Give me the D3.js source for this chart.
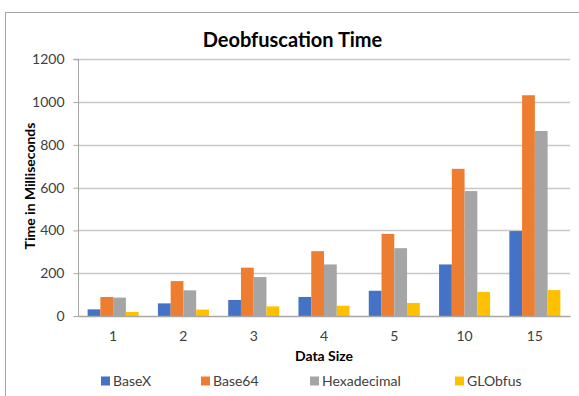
<!DOCTYPE html>
<html><head><meta charset="utf-8">
<script src="https://cdn.jsdelivr.net/npm/d3@7"></script>
<style>html,body{margin:0;padding:0;background:#fff;} svg{display:block;font-family:Lato,"Open Sans",sans-serif;}</style>
</head><body>
<svg id="c" width="579" height="396"></svg>
<script>
const categories = ["1","2","3","4","5","10","15"];
const seriesNames = ["BaseX","Base64","Hexadecimal","GLObfus"];
const baseX = [31, 59, 75, 89, 118, 241, 397];
const base64 = [89, 163, 226, 303, 384, 688, 1032];
const hexadecimal = [86, 120, 182, 241, 317, 584, 865];
const globfus = [19, 30, 45, 48, 61, 112, 121];
const yTicks = [0, 200, 400, 600, 800, 1000, 1200];
const colors = ["#4472C4","#ED7D31","#A5A5A5","#FFC000"];

const seriesValues = [baseX, base64, hexadecimal, globfus];
const svg = d3.select("#c");
const m = {left:78, right:570, top:59.3, bottom:316};

svg.append("rect").attr("x",5.5).attr("y",12.5).attr("width",600).attr("height",420)
  .attr("fill","#fff").attr("stroke","#a6a6a6").attr("stroke-width",1);

const x = d3.scaleBand().domain(categories).range([m.left, m.right]).paddingInner(0).paddingOuter(0);
const xs = d3.scaleBand().domain(seriesNames).range([0, x.bandwidth()]).paddingInner(0).paddingOuter(0.755);
const y = d3.scaleLinear().domain([0,1200]).range([m.bottom, m.top]);

// gridlines
svg.append("g").selectAll("line").data(yTicks.filter(d=>d>0)).join("line")
  .attr("x1", m.left).attr("x2", m.right)
  .attr("y1", d=>Math.round(y(d))+0.5).attr("y2", d=>Math.round(y(d))+0.5)
  .attr("stroke","#c8c8c8").attr("stroke-width",1.3);

// y axis
const yAxis = d3.axisLeft(y).tickValues(yTicks).tickSize(5).tickPadding(9).tickFormat(d3.format("d"));
const ya = svg.append("g").attr("transform",`translate(${m.left+0.5},0)`).call(yAxis);
ya.select(".domain").attr("stroke","#a6a6a6").attr("d",`M-5,${y(1200)}H0V${y(0)}`);
ya.selectAll(".tick line").attr("stroke","#a6a6a6");
ya.selectAll(".tick text").attr("fill","#404040").style("font-size","14px").style("font-family","Lato,sans-serif");

// bars
const groups = svg.append("g").selectAll("g").data(categories).join("g")
  .attr("transform", c=>`translate(${x(c)},0)`);
groups.selectAll("rect").data((c,i)=>seriesNames.map((s,j)=>({s, v:seriesValues[j][i], j})))
  .join("rect")
  .attr("x", d=>xs(d.s)).attr("width", xs.bandwidth())
  .attr("y", d=>y(d.v)).attr("height", d=>y(0)-y(d.v))
  .attr("fill", d=>colors[d.j]);

// x axis
const xAxis = d3.axisBottom(x).tickSize(0).tickPadding(15);
const xa = svg.append("g").attr("transform",`translate(0,${m.bottom})`).call(xAxis);
xa.select(".domain").attr("stroke","#a6a6a6").attr("stroke-width",1.3);
xa.selectAll(".tick text").attr("fill","#404040").style("font-size","14px").style("font-family","Lato,sans-serif");

// title
svg.append("text").attr("x",292.5).attr("y",47).attr("text-anchor","middle")
  .style("font-size","20px").style("font-weight","bold").attr("fill","#000").text("Deobfuscation Time");

// axis titles
svg.append("text").attr("x",(m.left+m.right)/2).attr("y",361).attr("text-anchor","middle")
  .style("font-size","14px").style("font-weight","bold").attr("fill","#000").text("Data Size");
svg.append("text").attr("transform","translate(35,186) rotate(-90)").attr("text-anchor","middle")
  .style("font-size","14px").style("font-weight","bold").attr("fill","#000").text("Time in Milliseconds");

// legend
const legendX = [101, 201, 310, 455];
const lg = svg.append("g").selectAll("g").data(seriesNames).join("g")
  .attr("transform",(d,i)=>`translate(${legendX[i]},376.5)`);
lg.append("rect").attr("width",9).attr("height",9).attr("fill",(d,i)=>colors[i]);
lg.append("text").attr("x",12).attr("y",9.5).style("font-size","14px").attr("fill","#404040").text(d=>d);
</script>
</body></html>
